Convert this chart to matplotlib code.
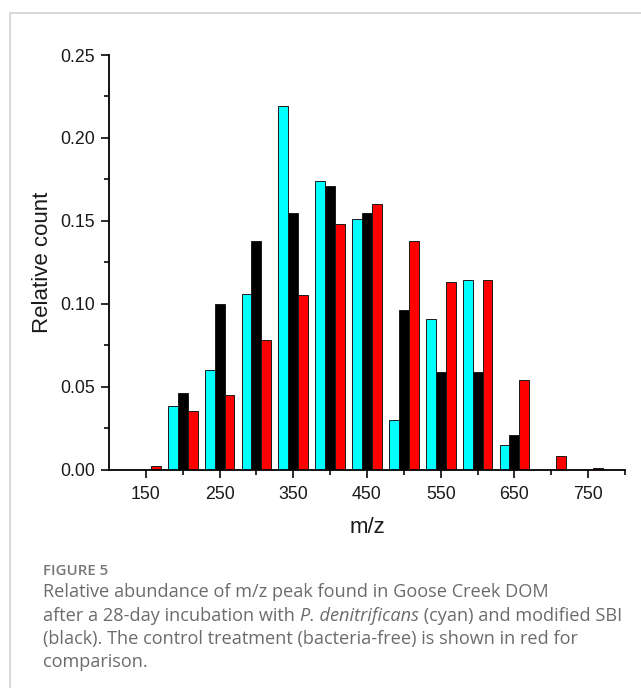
import matplotlib
matplotlib.use("Agg")
import matplotlib.pyplot as plt
import matplotlib.patches as mpatches
from matplotlib.ticker import MultipleLocator, FixedLocator
import numpy as np

# ---- data ----
mz_bins = [150, 200, 250, 300, 350, 400, 450, 500, 550, 600, 650, 700, 750]
cyan_vals = [0.0, 0.038, 0.060, 0.106, 0.219, 0.174, 0.151, 0.030, 0.091, 0.114, 0.015, 0.0, 0.0]
black_vals = [0.0, 0.046, 0.100, 0.138, 0.155, 0.171, 0.155, 0.096, 0.059, 0.059, 0.021, 0.0, 0.0]
red_vals = [0.002, 0.035, 0.045, 0.078, 0.105, 0.148, 0.160, 0.138, 0.113, 0.114, 0.054, 0.008, 0.001]
major_xticks = [150, 250, 350, 450, 550, 650, 750]
minor_xticks = [200, 300, 400, 500, 600, 700, 800]
ytick_labels = ["0.00", "0.05", "0.10", "0.15", "0.20", "0.25"]

W, H = 641, 688
fig = plt.figure(figsize=(W / 100, H / 100), dpi=100)
fig.patch.set_facecolor("white")

left, right, bottom, top = 109, 625, 469.5, 55
ax = fig.add_axes([left / W, 1 - bottom / H, (right - left) / W, (bottom - top) / H])

x = np.array(mz_bins, dtype=float)
bw = 13.5
series = [(cyan_vals, "#00FFFF", -bw), (black_vals, "#000000", 0.0), (red_vals, "#FF0000", bw)]
for vals, col, off in series:
    v = np.array(vals)
    mask = v > 0
    ax.bar(x[mask] + off, v[mask], width=bw, color=col, edgecolor="#1a1a1a",
           linewidth=0.7, zorder=2)

ax.set_xlim(100, 800)
ax.set_ylim(0, 0.25)
for s in ["top", "right"]:
    ax.spines[s].set_visible(False)
for s in ["left", "bottom"]:
    ax.spines[s].set_linewidth(1.3)
    ax.spines[s].set_zorder(3)

tick_font = "Liberation Sans"
ax.xaxis.set_major_locator(FixedLocator(major_xticks))
ax.xaxis.set_minor_locator(FixedLocator(minor_xticks))
ax.set_xticklabels([str(t) for t in major_xticks], fontsize=12.8, family=tick_font)
ax.yaxis.set_major_locator(FixedLocator([0, 0.05, 0.10, 0.15, 0.20, 0.25]))
ax.yaxis.set_minor_locator(MultipleLocator(0.025))
ax.set_yticklabels(ytick_labels, fontsize=12.8, family=tick_font)
ax.tick_params(axis="both", which="major", direction="out", length=6, width=1.3, pad=4, colors="#1a1a1a")
ax.tick_params(axis="both", which="minor", direction="out", length=3.5, width=1.3, colors="#1a1a1a")
ax.tick_params(axis="x", which="major", pad=6)

ax.set_xlabel("m/z", fontsize=16, family=tick_font, labelpad=10, color="#1a1a1a")
ax.set_ylabel("Relative count", fontsize=16, family=tick_font, labelpad=5, color="#1a1a1a")

# frame around figure block
rect = mpatches.Rectangle((10 / W, -0.2), 1.2, 1 - 13 / H + 0.2, transform=fig.transFigure,
                          fill=False, edgecolor="#d6d6d6", linewidth=1.3, clip_on=False)
fig.patches.append(rect)

# caption
cap_font = "Open Sans"
cap_col = "#6b6b6b"
cx = 43 / W
fig.text(cx, 1 - 571 / H, "FIGURE 5", fontsize=10.8, family=cap_font, color="#777777",
         va="center", ha="left", weight="semibold")
fs = 13.1
fig.text(cx, 1 - 592 / H, "Relative abundance of m/z peak found in Goose Creek DOM",
         fontsize=fs, family=cap_font, color=cap_col, va="center", ha="left")
t1 = fig.text(cx, 1 - 616 / H, "after a 28-day incubation with ",
              fontsize=fs, family=cap_font, color=cap_col, va="center", ha="left")
t2 = fig.text(0, 0, "P. denitrificans", fontsize=fs, family=cap_font, style="italic",
              color=cap_col, va="center", ha="left")
t3 = fig.text(0, 0, " (cyan) and modified SBI", fontsize=fs, family=cap_font,
              color=cap_col, va="center", ha="left")
fig.text(cx, 1 - 639 / H, "(black). The control treatment (bacteria-free) is shown in red for",
         fontsize=fs, family=cap_font, color=cap_col, va="center", ha="left")
fig.text(cx, 1 - 662 / H, "comparison.", fontsize=fs, family=cap_font, color=cap_col,
         va="center", ha="left")

fig.canvas.draw()
r = fig.canvas.get_renderer()
inv = fig.transFigure.inverted()
b1 = t1.get_window_extent(r)
t2.set_position((inv.transform((b1.x1, 0))[0], 1 - 616 / H))
b2 = t2.get_window_extent(r)
t3.set_position((inv.transform((b2.x1, 0))[0], 1 - 616 / H))

fig.savefig("out.png", dpi=100, facecolor="white")
